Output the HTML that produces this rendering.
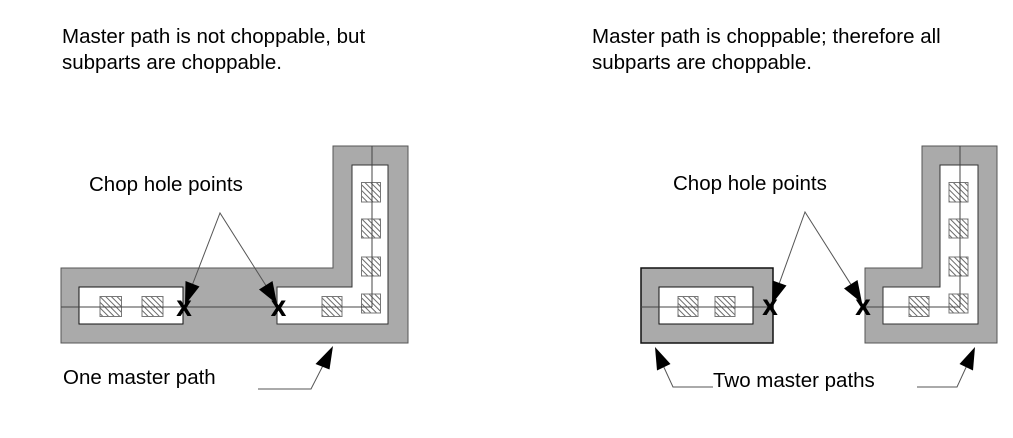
<!DOCTYPE html>
<html>
<head>
<meta charset="utf-8">
<style>
html,body{margin:0;padding:0;background:#fff;}
svg{display:block;}
text{font-family:"Liberation Sans",Arial,sans-serif;fill:#000;}
</style>
</head>
<body>
<svg width="1013" height="438" viewBox="0 0 1013 438" xmlns="http://www.w3.org/2000/svg">
<defs>
<pattern id="h" patternUnits="userSpaceOnUse" width="4" height="4" patternTransform="rotate(-45)">
<rect width="4" height="4" fill="#fff"/>
<line x1="1" y1="0" x2="1" y2="4" stroke="#6a6a6a" stroke-width="1"/>
</pattern>
</defs>

<!-- Titles -->
<text x="62" y="43" font-size="20.5">Master path is not choppable, but</text>
<text x="62" y="69" font-size="20.5">subparts are choppable.</text>
<text x="592" y="43" font-size="20.5">Master path is choppable; therefore all</text>
<text x="592" y="69" font-size="20.5">subparts are choppable.</text>

<!-- LEFT PANEL -->
<polygon points="61,268 333,268 333,146 408,146 408,343 61,343" fill="#aaaaaa" stroke="#555" stroke-width="1"/>
<rect x="79" y="287" width="104" height="37" fill="#fff" stroke="#111" stroke-width="1"/>
<polygon points="277,287 352,287 352,165 388,165 388,324 277,324" fill="#fff" stroke="#333" stroke-width="1"/>
<g fill="url(#h)" stroke="#777" stroke-width="1">
<rect x="100" y="296.5" width="21.5" height="20"/>
<rect x="142" y="296.5" width="21" height="20"/>
<rect x="322" y="296.5" width="20" height="20"/>
<rect x="361.5" y="182.5" width="19" height="19.5"/>
<rect x="361.5" y="219" width="19" height="19"/>
<rect x="361.5" y="257" width="19" height="19"/>
<rect x="361.5" y="294" width="19" height="19"/>
</g>
<g stroke="#444" stroke-width="1" fill="none">
<line x1="61" y1="307" x2="372" y2="307"/>
<line x1="372" y1="146" x2="372" y2="307"/>
</g>
<text x="89" y="191" font-size="20.5">Chop hole points</text>
<g stroke="#555" stroke-width="1" fill="none">
<polyline points="192.5,284.4 220,213 265.8,285.3"/>
<polyline points="258,389 311,389 322.5,366.5"/>
</g>
<g fill="#000">
<polygon points="185,305 199.5,286.5 185.5,281"/>
<polygon points="277,304 272.5,281 259,289.5"/>
<polygon points="333,346 315.5,364 329.5,369.5"/>
</g>
<g stroke="#000" stroke-width="0.9">
<text x="184" y="315.5" font-size="21" font-weight="bold" text-anchor="middle">X</text>
<text x="278.5" y="315.5" font-size="21" font-weight="bold" text-anchor="middle">X</text>
</g>
<text x="63" y="384" font-size="20.5">One master path</text>

<!-- RIGHT PANEL -->
<rect x="641" y="268" width="132" height="75" fill="#aaaaaa" stroke="#111" stroke-width="1.5"/>
<rect x="659" y="287" width="94" height="37" fill="#fff" stroke="#111" stroke-width="1"/>
<polygon points="865,268 922,268 922,146 997,146 997,343 865,343" fill="#aaaaaa" stroke="#555" stroke-width="1"/>
<polygon points="883,287 940,287 940,165 978,165 978,324 883,324" fill="#fff" stroke="#333" stroke-width="1"/>
<g fill="url(#h)" stroke="#777" stroke-width="1">
<rect x="678" y="296.5" width="20" height="20"/>
<rect x="715" y="296.5" width="20" height="20"/>
<rect x="909" y="296.5" width="20" height="20"/>
<rect x="949" y="182.5" width="19" height="19.5"/>
<rect x="949" y="219" width="19" height="19"/>
<rect x="949" y="257" width="19" height="19"/>
<rect x="949" y="294" width="19" height="19"/>
</g>
<g stroke="#444" stroke-width="1" fill="none">
<line x1="641" y1="307" x2="770" y2="307"/>
<line x1="865" y1="307" x2="960" y2="307"/>
<line x1="960" y1="146" x2="960" y2="307"/>
</g>
<text x="673" y="190" font-size="20.5">Chop hole points</text>
<g stroke="#555" stroke-width="1" fill="none">
<polyline points="779.3,283.3 805,212 850.8,284.3"/>
<polyline points="713,387 673,387 663.8,367"/>
<polyline points="917,387 957,387 966.2,367"/>
</g>
<g fill="#000">
<polygon points="772,304 786.5,285.5 772.5,280.5"/>
<polygon points="862,303 857.5,280 844,288.5"/>
<polygon points="655,347 670.5,364 657,370.5"/>
<polygon points="975,347 973,370.5 959.5,364"/>
</g>
<g stroke="#000" stroke-width="0.9">
<text x="770" y="314.5" font-size="21" font-weight="bold" text-anchor="middle">X</text>
<text x="863" y="314.5" font-size="21" font-weight="bold" text-anchor="middle">X</text>
</g>
<text x="713" y="387" font-size="20.5">Two master paths</text>
</svg>
</body>
</html>
